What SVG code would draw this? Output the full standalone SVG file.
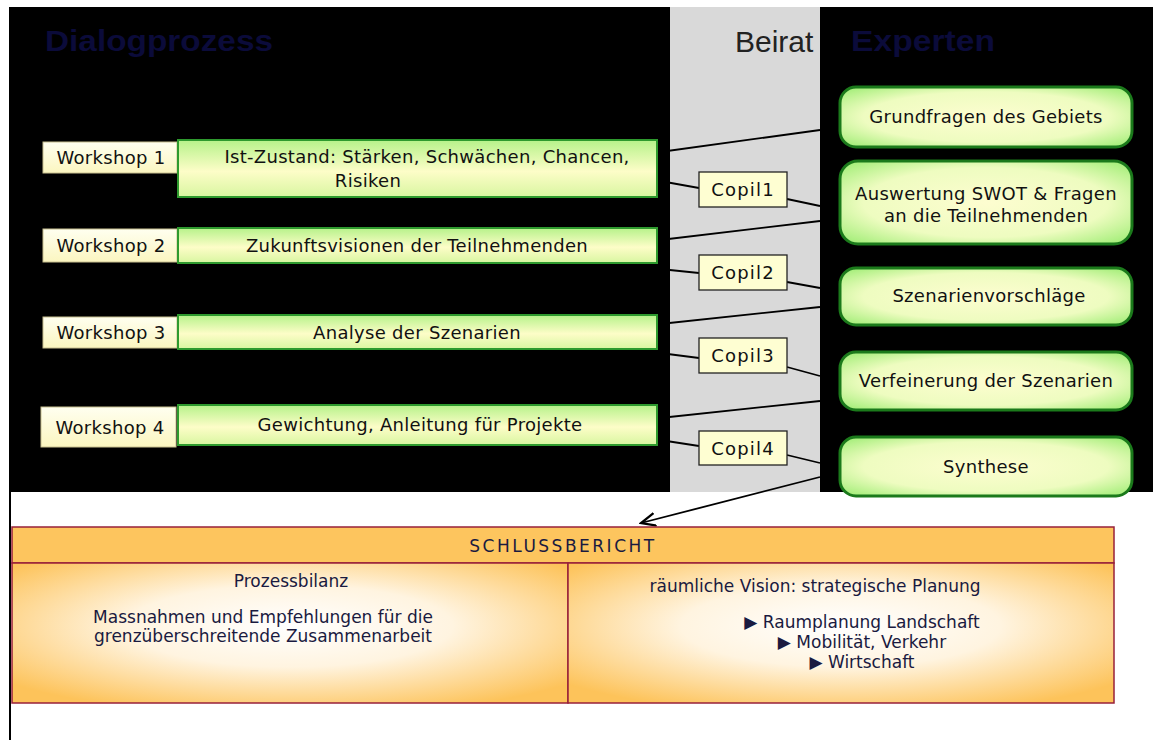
<svg xmlns="http://www.w3.org/2000/svg" width="1153" height="740" viewBox="0 0 1153 740">
<defs>
<linearGradient id="gBox" x1="0" y1="0" x2="0" y2="1">
<stop offset="0" stop-color="#b6f28a"/>
<stop offset="0.55" stop-color="#fdfdc8"/>
<stop offset="1" stop-color="#d8f6a0"/>
</linearGradient>
<linearGradient id="gLab" x1="0" y1="0" x2="0" y2="1">
<stop offset="0" stop-color="#fffff0"/>
<stop offset="1" stop-color="#fbf6c0"/>
</linearGradient>
<radialGradient id="gExp" cx="0.5" cy="0.5" r="0.7">
<stop offset="0" stop-color="#fdfdd0"/>
<stop offset="0.6" stop-color="#eefcc0"/>
<stop offset="1" stop-color="#9aec70"/>
</radialGradient>
<radialGradient id="gCell" cx="0.5" cy="0.45" r="0.65">
<stop offset="0" stop-color="#ffffff"/>
<stop offset="0.45" stop-color="#fff4e0"/>
<stop offset="1" stop-color="#fdc35a"/>
</radialGradient>
<marker id="arr" viewBox="0 0 10 10" refX="9" refY="5" markerWidth="9" markerHeight="9" orient="auto">
<path d="M0,1 L9,5 L0,9" fill="none" stroke="#000" stroke-width="1.4"/>
</marker>
<style>
.t{font-family:"DejaVu Sans","Liberation Sans",sans-serif;font-size:18px;letter-spacing:0.3px;fill:#111}
.cp{letter-spacing:1.2px}
.ws{fill:url(#gLab);stroke:#c8c090;stroke-width:1}
.box{fill:url(#gBox);stroke:#2e9a2e;stroke-width:2}
.cop{fill:#fefed2;stroke:#222;stroke-width:1.3}
.exp{fill:url(#gExp);stroke:#1b7a1b;stroke-width:3}
.ln{stroke:#000;stroke-width:1.8;fill:none}
.hd{font-family:"Liberation Sans",Arial,sans-serif;font-size:30px}
.cell{fill:url(#gCell);stroke:#98203a;stroke-width:1.5}
.ct{font-family:"DejaVu Sans","Liberation Sans",sans-serif;font-size:17px;fill:#1a1a40}
</style>
</defs>
<rect x="0" y="0" width="1153" height="740" fill="#ffffff"/>
<rect x="9" y="7" width="1144" height="485" fill="#000000"/>
<rect x="670" y="7" width="150" height="485" fill="#d9d9d9"/>
<line x1="10" y1="492" x2="10" y2="740" stroke="#000" stroke-width="2"/>

<g id="titles">
<text x="45" y="51" class="hd" font-weight="bold" fill="#0b0b3a" textLength="228" lengthAdjust="spacingAndGlyphs">Dialogprozess</text>
<text x="735" y="52" class="hd" fill="#222">Beirat</text>
<text x="851" y="51" class="hd" font-weight="bold" fill="#0b0b3a" textLength="144" lengthAdjust="spacingAndGlyphs">Experten</text>
</g>

<g id="connectors">
<polyline class="ln" points="660,152 820,130"/>
<polyline class="ln" points="660,181 699,188"/>
<polyline class="ln" points="787,199 820,206"/>
<polyline class="ln" points="660,240 820,221"/>
<polyline class="ln" points="660,269 699,273"/>
<polyline class="ln" points="787,282 820,288"/>
<polyline class="ln" points="660,324 820,307"/>
<polyline class="ln" points="660,353 699,358"/>
<polyline class="ln" points="787,367 820,376"/>
<polyline class="ln" points="660,418 820,401"/>
<polyline class="ln" points="660,440 699,446"/>
<polyline class="ln" points="787,455 820,463"/>
<line class="ln" x1="820" y1="477" x2="641" y2="523" stroke-width="1.6" marker-end="url(#arr)"/>
</g>

<g id="ws1">
<rect class="ws" x="43" y="142" width="134" height="31"/>
<text class="t" x="111" y="164" text-anchor="middle">Workshop 1</text>
<rect class="box" x="178" y="140" width="479" height="57"/>
<text class="t" x="427" y="163" text-anchor="middle">Ist-Zustand: Stärken, Schwächen, Chancen,</text>
<text class="t" x="368" y="187" text-anchor="middle">Risiken</text>
</g>
<g id="ws2">
<rect class="ws" x="43" y="229" width="134" height="33"/>
<text class="t" x="111" y="252" text-anchor="middle">Workshop 2</text>
<rect class="box" x="178" y="228" width="479" height="35"/>
<text class="t" x="417" y="252" text-anchor="middle">Zukunftsvisionen der Teilnehmenden</text>
</g>
<g id="ws3">
<rect class="ws" x="43" y="317" width="134" height="31"/>
<text class="t" x="111" y="339" text-anchor="middle">Workshop 3</text>
<rect class="box" x="178" y="315" width="479" height="34"/>
<text class="t" x="417" y="339" text-anchor="middle">Analyse der Szenarien</text>
</g>
<g id="ws4">
<rect class="ws" x="41" y="407" width="135" height="40"/>
<text class="t" x="110" y="434" text-anchor="middle">Workshop 4</text>
<rect class="box" x="178" y="405" width="479" height="40"/>
<text class="t" x="420" y="431" text-anchor="middle">Gewichtung, Anleitung für Projekte</text>
</g>

<g id="copil1"><rect class="cop" x="699" y="172" width="88" height="35"/><text class="t cp" x="743" y="196" text-anchor="middle">Copil1</text></g>
<g id="copil2"><rect class="cop" x="699" y="255" width="88" height="35"/><text class="t cp" x="743" y="279" text-anchor="middle">Copil2</text></g>
<g id="copil3"><rect class="cop" x="699" y="338" width="88" height="35"/><text class="t cp" x="743" y="362" text-anchor="middle">Copil3</text></g>
<g id="copil4"><rect class="cop" x="699" y="431" width="88" height="34"/><text class="t cp" x="743" y="455" text-anchor="middle">Copil4</text></g>

<g id="exp1"><rect class="exp" x="840" y="87" width="292" height="60" rx="16"/><text class="t" x="986" y="123" text-anchor="middle">Grundfragen des Gebiets</text></g>
<g id="exp2"><rect class="exp" x="840" y="161" width="292" height="83" rx="18"/><text class="t" x="986" y="200" text-anchor="middle">Auswertung SWOT &amp; Fragen</text><text class="t" x="986" y="222" text-anchor="middle">an die Teilnehmenden</text></g>
<g id="exp3"><rect class="exp" x="840" y="268" width="292" height="57" rx="16"/><text class="t" x="989" y="302" text-anchor="middle">Szenarienvorschläge</text></g>
<g id="exp4"><rect class="exp" x="840" y="352" width="292" height="58" rx="16"/><text class="t" x="986" y="387" text-anchor="middle">Verfeinerung der Szenarien</text></g>
<g id="exp5"><rect class="exp" x="840" y="437" width="292" height="59" rx="16"/><text class="t" x="986" y="473" text-anchor="middle">Synthese</text></g>

<g id="schlussbericht">
<rect x="12" y="527" width="1102" height="36" fill="#fdc55e" stroke="#98203a" stroke-width="1.5"/>
<text class="ct" x="563" y="552" text-anchor="middle" letter-spacing="2.5">SCHLUSSBERICHT</text>
<rect class="cell" x="12" y="563" width="556" height="140"/>
<text class="ct" x="291" y="587" text-anchor="middle">Prozessbilanz</text>
<text class="ct" x="263" y="623" text-anchor="middle">Massnahmen und Empfehlungen für die</text>
<text class="ct" x="263" y="642" text-anchor="middle">grenzüberschreitende Zusammenarbeit</text>
<rect class="cell" x="568" y="563" width="546" height="140"/>
<text class="ct" x="815" y="592" text-anchor="middle">räumliche Vision: strategische Planung</text>
<text class="ct" x="862" y="628" text-anchor="middle">▶ Raumplanung Landschaft</text>
<text class="ct" x="862" y="648" text-anchor="middle">▶ Mobilität, Verkehr</text>
<text class="ct" x="862" y="668" text-anchor="middle">▶ Wirtschaft</text>
</g>
</svg>
